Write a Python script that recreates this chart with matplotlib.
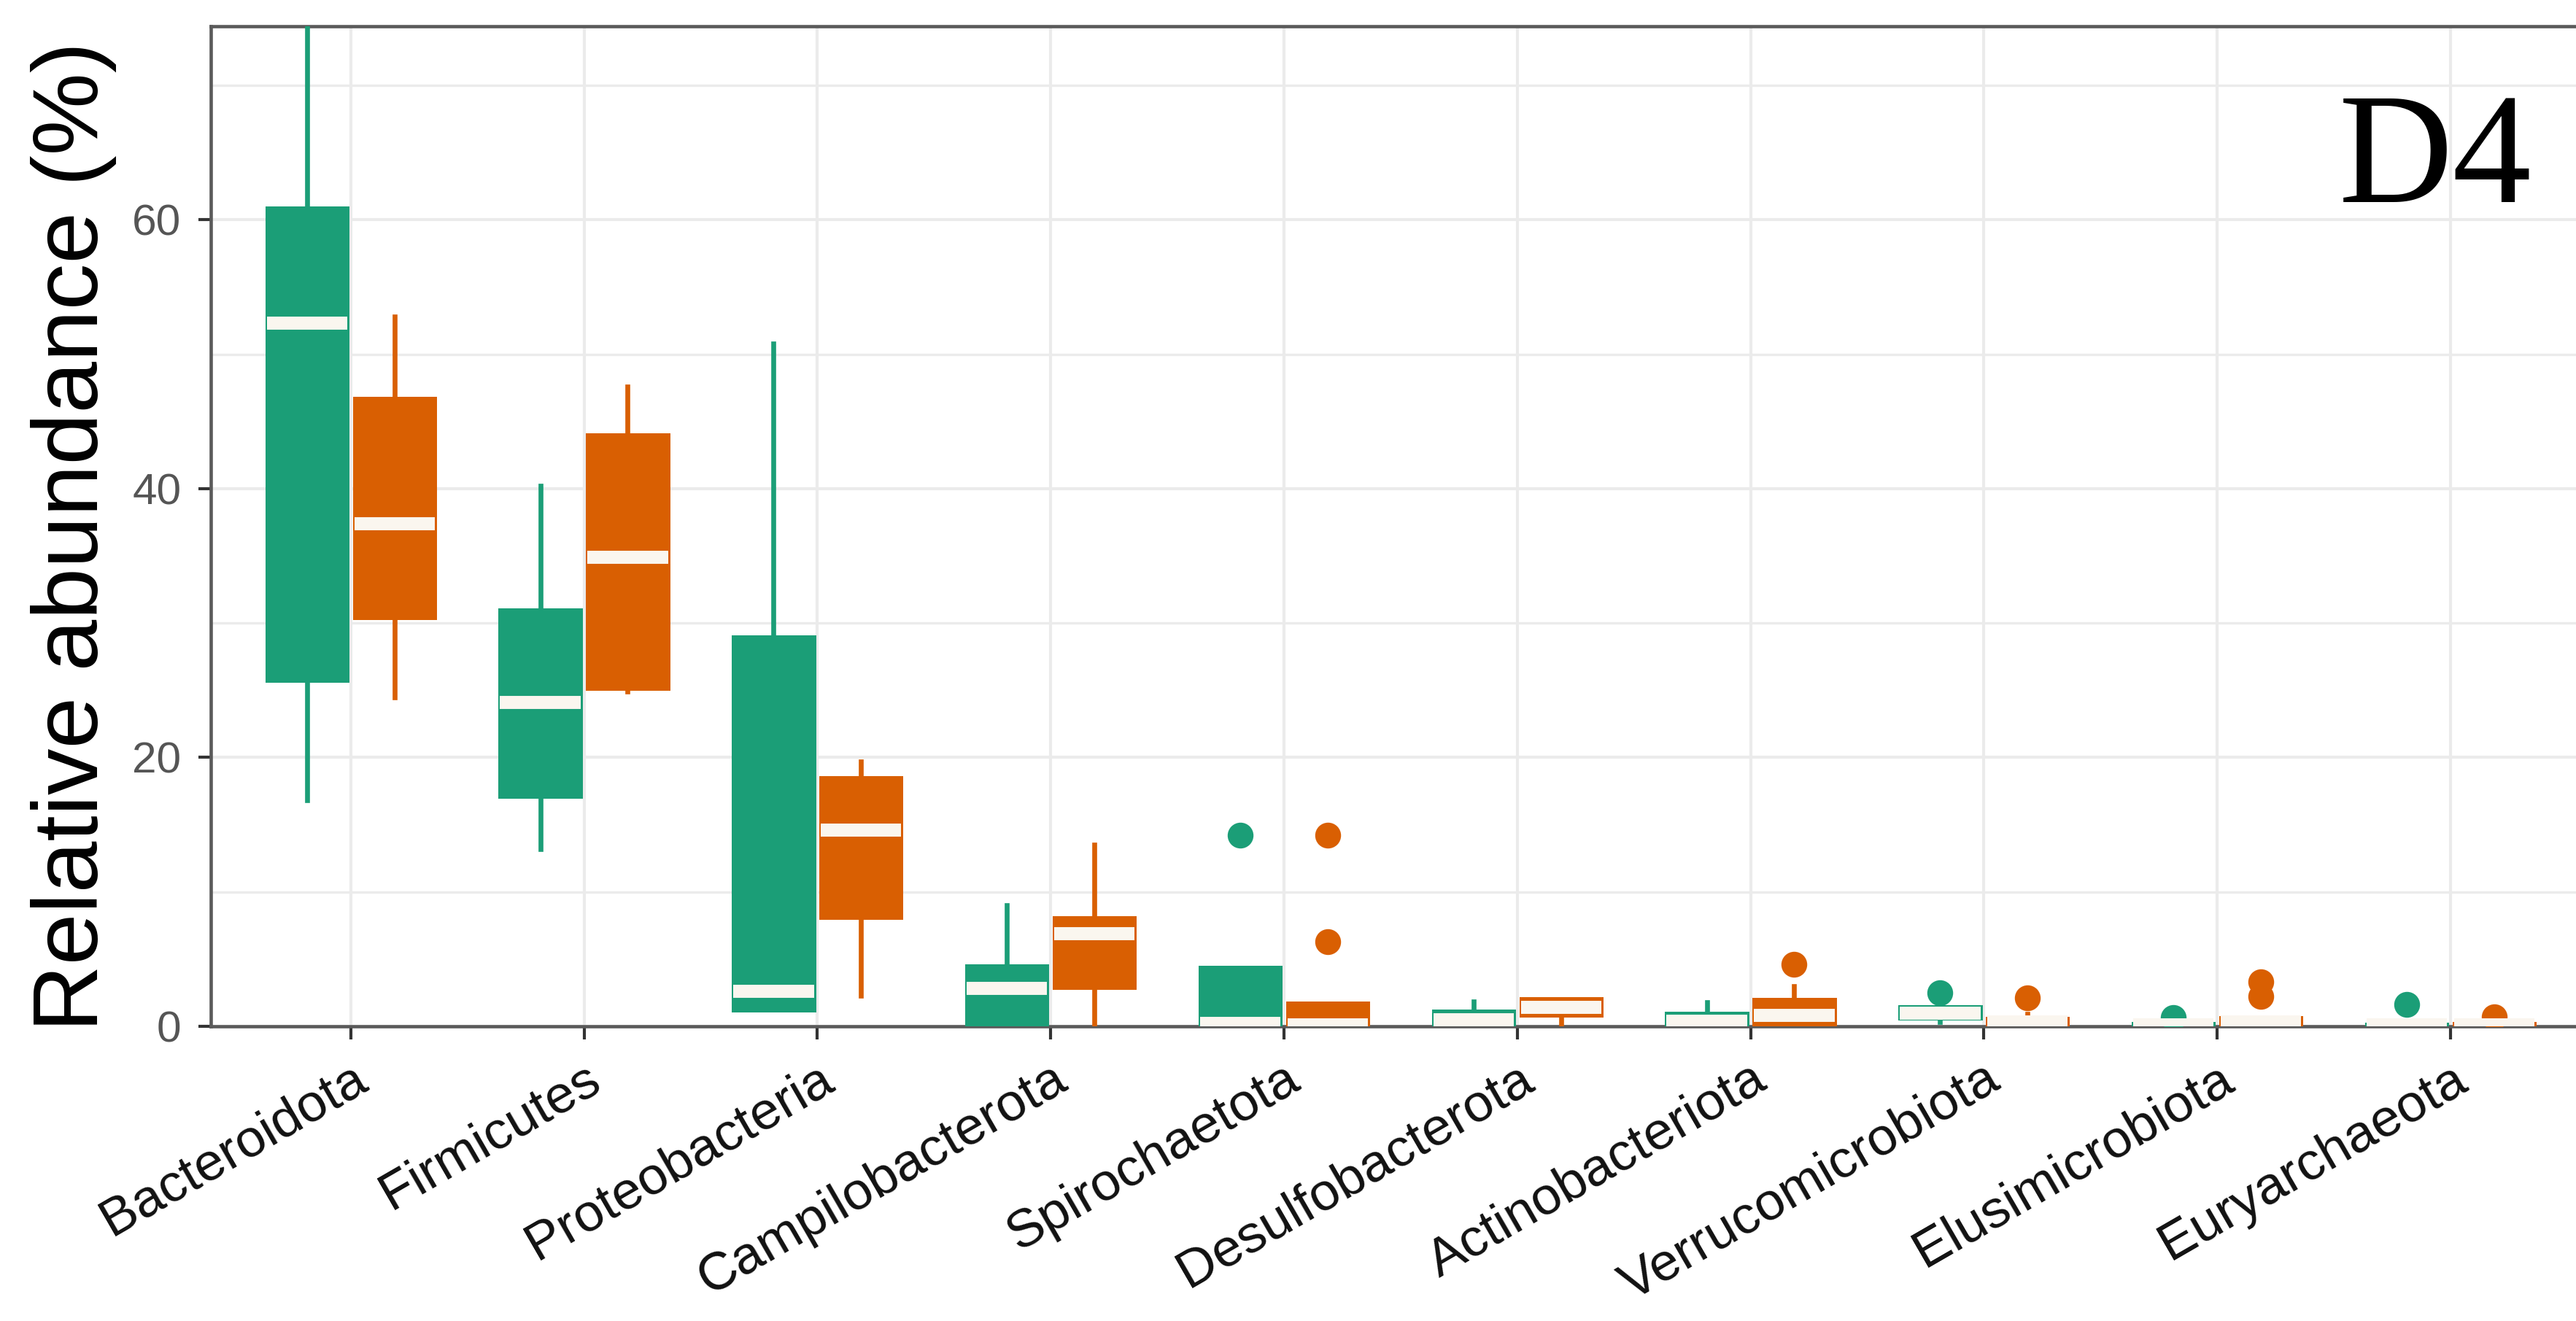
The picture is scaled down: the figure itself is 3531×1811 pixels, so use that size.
import numpy as np
import matplotlib
matplotlib.use('Agg')
import matplotlib.pyplot as plt
from matplotlib.ticker import MultipleLocator

plt.rcParams['font.family'] = ['Liberation Sans', 'DejaVu Sans']

# 门水平（phylum）类别
phyla = ['Bacteroidota', 'Firmicutes', 'Proteobacteria', 'Campilobacterota',
         'Spirochaetota', 'Desulfobacterota', 'Actinobacteriota',
         'Verrucomicrobiota', 'Elusimicrobiota', 'Euryarchaeota']

# 组1（绿色）箱线图统计量
green_whislo = [16.8, 13.2, 1.2, 0.0, 0.0, 0.1, 0.0, 0.3, 0.0, 0.0]
green_q1 = [25.7, 17.1, 1.2, 0.0, 0.0, 0.15, 0.0, 0.6, 0.0, 0.0]
green_med = [52.3, 24.1, 2.6, 2.8, 0.2, 0.5, 0.4, 1.0, 0.1, 0.1]
green_q3 = [60.9, 31.0, 29.0, 4.5, 4.4, 1.15, 0.95, 1.45, 0.2, 0.15]
green_whishi = [78.0, 40.2, 50.8, 9.0, 4.4, 1.85, 1.8, 1.45, 0.2, 0.15]
green_fliers = [[], [], [], [], [14.2], [], [], [2.5], [0.65], [1.6]]

# 组2（橙色）
orange_whislo = [24.5, 24.9, 2.3, 0.0, 0.0, 0.15, 0.1, 0.0, 0.0, 0.0]
orange_q1 = [30.4, 25.1, 8.1, 2.9, 0.0, 0.8, 0.1, 0.0, 0.0, 0.0]
orange_med = [37.4, 34.9, 14.6, 6.9, 0.1, 1.4, 0.8, 0.3, 0.3, 0.1]
orange_q3 = [46.7, 44.0, 18.5, 8.1, 1.75, 2.05, 2.0, 0.6, 0.65, 0.2]
orange_whishi = [52.8, 47.6, 19.7, 13.5, 1.75, 2.05, 3.0, 0.9, 0.65, 0.2]
orange_fliers = [[], [], [], [], [6.3, 14.2], [], [4.6], [2.1], [2.2, 3.3], [0.7]]

GREEN = '#1B9E77'
ORANGE = '#D95F02'


def make_stats(lo, q1, med, q3, hi, fl):
    return [dict(whislo=a, q1=b, med=c, q3=d, whishi=e, fliers=f)
            for a, b, c, d, e, f in zip(lo, q1, med, q3, hi, fl)]


green_stats = make_stats(green_whislo, green_q1, green_med, green_q3, green_whishi, green_fliers)
orange_stats = make_stats(orange_whislo, orange_q1, orange_med, orange_q3, orange_whishi, orange_fliers)

fig = plt.figure(figsize=(3531 / 300, 1811 / 300), dpi=300)
ax = fig.add_axes([0.0818, 0.2231, 0.9238, 0.757])

pos = np.arange(1, len(phyla) + 1)
for stats, off, col in [(green_stats, -0.1875, GREEN), (orange_stats, 0.1875, ORANGE)]:
    ax.bxp(stats, positions=pos + off, widths=0.345, patch_artist=True,
           showcaps=False, manage_ticks=False,
           boxprops=dict(facecolor=col, edgecolor=col, linewidth=1.2),
           whiskerprops=dict(color=col, linewidth=1.6),
           medianprops=dict(color='#FAF6EF', linewidth=4.3, solid_capstyle='butt'),
           flierprops=dict(marker='o', markerfacecolor=col, markeredgecolor=col,
                           markersize=7.5, linestyle='none'),
           zorder=3)

ax.set_xlim(0.4, 10.6)
ax.set_ylim(0, 74.4)
ax.set_xticks(pos)
ax.set_xticklabels(phyla, rotation=30, ha='right', va='top', rotation_mode='anchor',
                   fontsize=17.5, color='#111111')
ax.set_yticks([0, 20, 40, 60])
ax.yaxis.set_minor_locator(MultipleLocator(10))
ax.tick_params(axis='both', which='major', length=4.2, width=1.0, color='#333333')
ax.tick_params(axis='y', which='minor', length=0)
ax.tick_params(axis='y', labelsize=14.5, labelcolor='#555555', pad=5.5)
ax.tick_params(axis='x', pad=5)

ax.grid(which='major', color='#EBEBEB', lw=1.0)
ax.grid(which='minor', axis='y', color='#EBEBEB', lw=0.8)
ax.set_axisbelow(True)
for s in ax.spines.values():
    s.set_color('#5A5A5A')
    s.set_linewidth(1.1)

ax.set_ylabel('Relative abundance (%)', fontsize=30.5)
ax.yaxis.set_label_coords(-0.0395, 0.49)

ax.text(10.35, 61.3, 'D4', family=['Liberation Serif'], fontsize=52,
        ha='right', va='baseline')

fig.savefig('out.png', dpi=300)
